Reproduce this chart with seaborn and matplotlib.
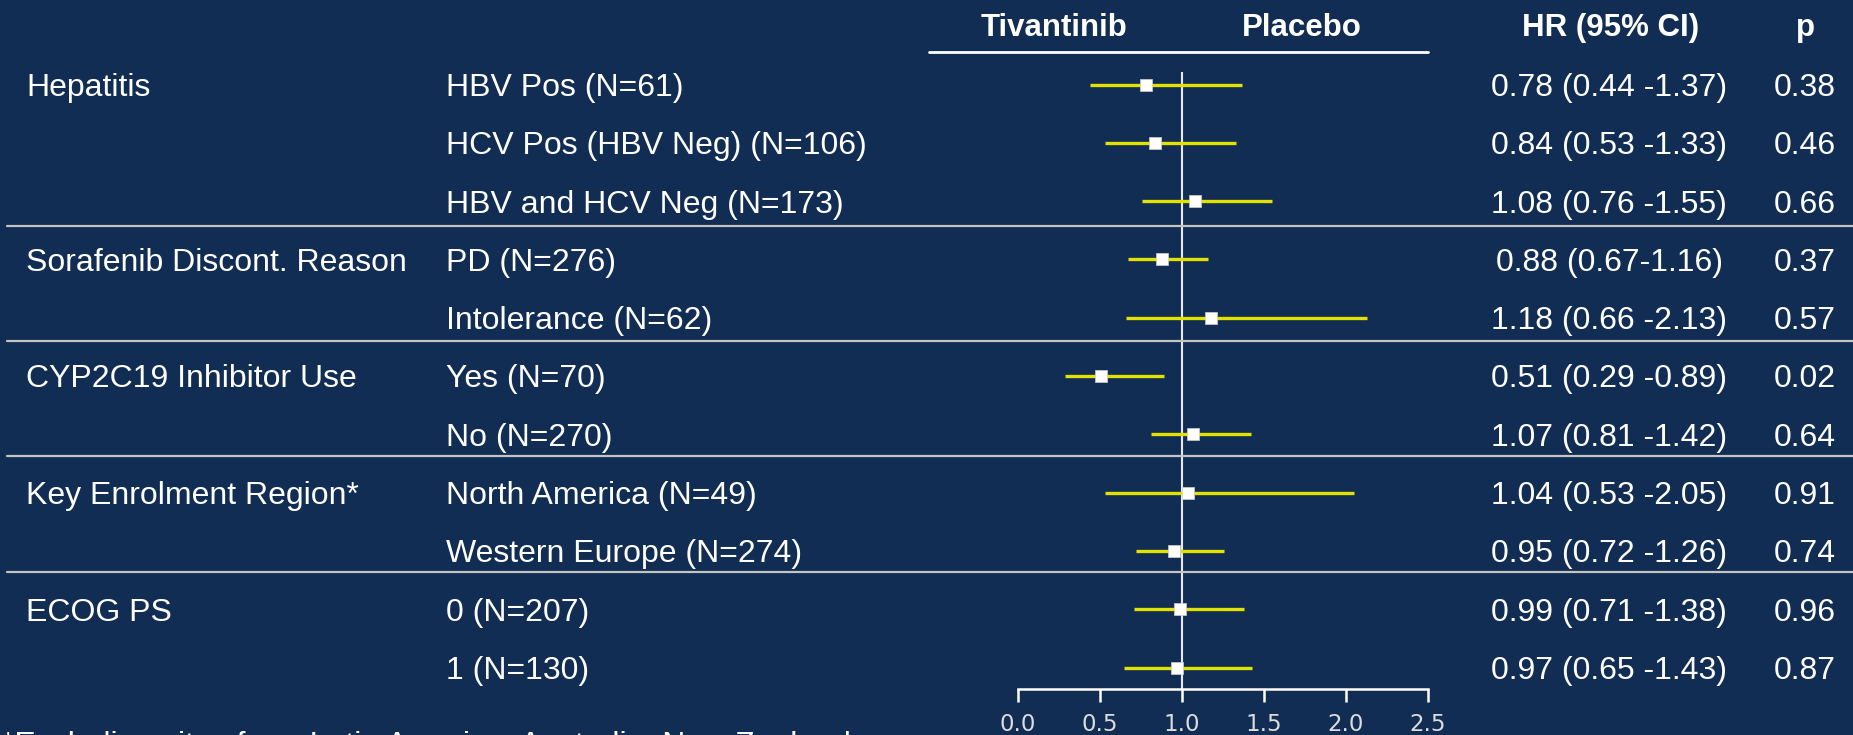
import matplotlib
matplotlib.use("Agg")
import matplotlib.pyplot as plt
from matplotlib.lines import Line2D
import numpy as np
import pandas as pd
import seaborn as sns

# ---- data -------------------------------------------------------------
groups = ["Hepatitis", "", "",
          "Sorafenib Discont. Reason", "",
          "CYP2C19 Inhibitor Use", "",
          "Key Enrolment Region*", "",
          "ECOG PS", ""]
subgroups = ["HBV Pos (N=61)", "HCV Pos (HBV Neg) (N=106)", "HBV and HCV Neg (N=173)",
             "PD (N=276)", "Intolerance (N=62)",
             "Yes (N=70)", "No (N=270)",
             "North America (N=49)", "Western Europe (N=274)",
             "0 (N=207)", "1 (N=130)"]
hr = [0.78, 0.84, 1.08, 0.88, 1.18, 0.51, 1.07, 1.04, 0.95, 0.99, 0.97]
ci_low = [0.44, 0.53, 0.76, 0.67, 0.66, 0.29, 0.81, 0.53, 0.72, 0.71, 0.65]
ci_high = [1.37, 1.33, 1.55, 1.16, 2.13, 0.89, 1.42, 2.05, 1.26, 1.38, 1.43]
hr_text = ["0.78 (0.44 -1.37)", "0.84 (0.53 -1.33)", "1.08 (0.76 -1.55)",
           "0.88 (0.67-1.16)", "1.18 (0.66 -2.13)",
           "0.51 (0.29 -0.89)", "1.07 (0.81 -1.42)",
           "1.04 (0.53 -2.05)", "0.95 (0.72 -1.26)",
           "0.99 (0.71 -1.38)", "0.97 (0.65 -1.43)"]
p_values = ["0.38", "0.46", "0.66", "0.37", "0.57", "0.02", "0.64",
            "0.91", "0.74", "0.96", "0.87"]
x_ticks = [0.0, 0.5, 1.0, 1.5, 2.0, 2.5]
arm_labels = ["Tivantinib", "Placebo"]
footnote = "*Excluding sites from Latin America, Australia, New Zealand"

df = pd.DataFrame({"row": np.arange(len(hr)), "hr": hr,
                   "lo": ci_low, "hi": ci_high})

# ---- style ------------------------------------------------------------
BG = "#112d53"
W_PX, H_PX = 1853, 735
sns.set_theme(style="white")
plt.rcParams["font.family"] = ["Liberation Sans", "DejaVu Sans"]

fig = plt.figure(figsize=(W_PX / 100, H_PX / 100), dpi=100, facecolor=BG)


def fx(x):
    return x / W_PX


def fy(y):
    return 1 - y / H_PX


ROW0, STEP = 84.5, 58.3          # pixel centre of first row and row pitch
AX_TOP, AX_BOT = 60.0, 689.3     # forest panel extent in pixels
X0, X1 = 1017.7, 1427.7          # pixel positions of 0.0 and 2.5

ax = fig.add_axes([fx(X0), fy(AX_BOT), (X1 - X0) / W_PX, (AX_BOT - AX_TOP) / H_PX])
ax.set_facecolor("none")
ax.set_xlim(0, 2.5)
ax.set_ylim((AX_BOT - ROW0) / STEP, (AX_TOP - ROW0) / STEP)

# reference line at HR = 1
ax.vlines(1.0, (72 - ROW0) / STEP, (AX_BOT - ROW0) / STEP,
          color="#e8e8e8", lw=1.5, zorder=1)
# confidence intervals
ax.hlines(df["row"], df["lo"], df["hi"], color="#e2e200", lw=2.4, zorder=2)
# point estimates
sns.scatterplot(data=df, x="hr", y="row", marker="s", s=78, color="white",
                edgecolor="#cfcfcf", linewidth=0.5, zorder=3, ax=ax, legend=False)

for side in ["top", "right", "left"]:
    ax.spines[side].set_visible(False)
ax.spines["bottom"].set_color("white")
ax.spines["bottom"].set_linewidth(1.8)
ax.set_xticks(x_ticks)
ax.set_xticklabels([f"{t:.1f}" for t in x_ticks], family="DejaVu Sans",
                   fontsize=16.5, color="#dcdcdc")
ax.tick_params(axis="x", direction="out", length=9, width=1.8, colors="white",
               labelcolor="#dcdcdc", pad=8, bottom=True)
ax.set_yticks([])
ax.set_xlabel("")
ax.set_ylabel("")

# ---- table text -------------------------------------------------------
FS = 23
CAP = FS / 72 * 100 * 0.716 / 2     # half cap height in pixels

for i in range(len(hr)):
    yb = fy(ROW0 + STEP * i + CAP)
    if groups[i]:
        fig.text(fx(26), yb, groups[i], fontsize=FS, color="white", va="baseline")
    fig.text(fx(446), yb, subgroups[i], fontsize=FS, color="white", va="baseline")
    fig.text(fx(1609), yb, hr_text[i], fontsize=FS, color="white",
             va="baseline", ha="center")
    fig.text(fx(1805), yb, p_values[i], fontsize=FS, color="white",
             va="baseline", ha="center")

# column headers
HFS = 22.5
hb = fy(25 + HFS / 72 * 100 * 0.716 / 2)
fig.text(fx(1054), hb, arm_labels[0], fontsize=HFS, weight="bold", color="white",
         ha="center", va="baseline")
fig.text(fx(1302), hb, arm_labels[1], fontsize=HFS, weight="bold", color="white",
         ha="center", va="baseline")
fig.text(fx(1611), hb, "HR (95% CI)", fontsize=HFS, weight="bold", color="white",
         ha="center", va="baseline")
fig.text(fx(1805), hb, "p", fontsize=HFS, weight="bold", color="white",
         ha="center", va="baseline")
fig.add_artist(Line2D([fx(928.6), fx(1427.7)], [fy(52.3), fy(52.3)],
                      color="white", lw=2.0))

# group separators
for ysep in [226.0, 340.7, 456.0, 572.0]:
    fig.add_artist(Line2D([fx(7), 1.0], [fy(ysep), fy(ysep)],
                          color="#c4c4c4", lw=1.6))

# footnote (runs off the lower edge)
fig.text(fx(2), fy(731 + 2 * CAP), footnote, fontsize=FS, color="white",
         va="baseline")

fig.savefig("out.png", dpi=100, facecolor=BG)
